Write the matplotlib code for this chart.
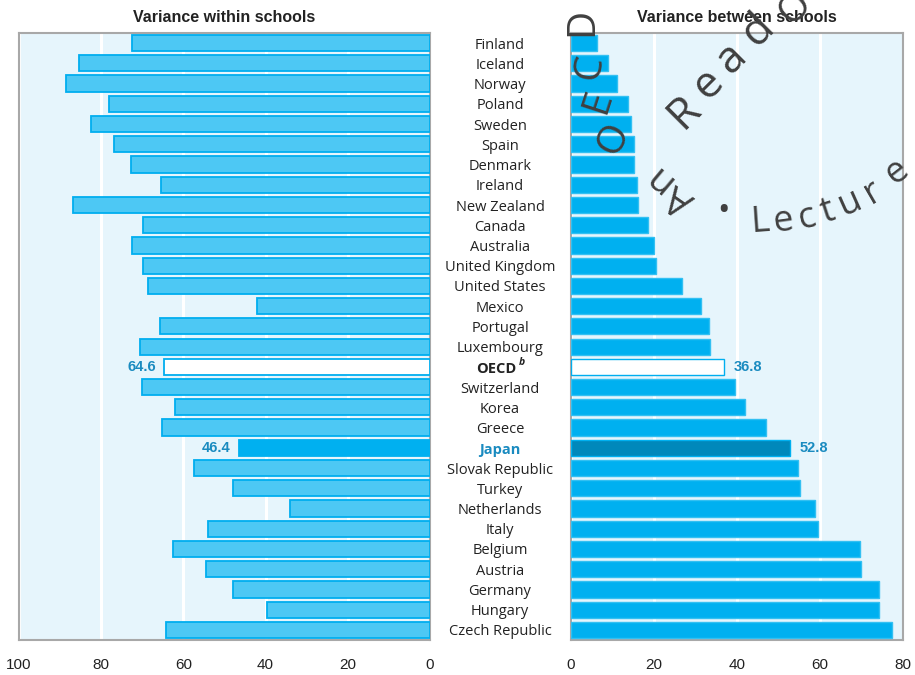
import matplotlib
matplotlib.use("Agg")
import matplotlib.pyplot as plt
import matplotlib.transforms as mtransforms

# Data (% of OECD average variance)
countries = ["Finland", "Iceland", "Norway", "Poland", "Sweden", "Spain", "Denmark",
             "Ireland", "New Zealand", "Canada", "Australia", "United Kingdom",
             "United States", "Mexico", "Portugal", "Luxembourg", "OECD",
             "Switzerland", "Korea", "Greece", "Japan", "Slovak Republic", "Turkey",
             "Netherlands", "Italy", "Belgium", "Austria", "Germany", "Hungary",
             "Czech Republic"]
within = [72.5, 85.4, 88.6, 78.1, 82.5, 76.9, 72.7, 65.5, 86.9, 69.8, 72.5, 69.8,
          68.6, 42.1, 65.7, 70.6, 64.6, 70.1, 62.0, 65.2, 46.4, 57.4, 47.9, 34.1,
          54.0, 62.5, 54.5, 47.9, 39.7, 64.2]
between = [6.3, 8.9, 11.1, 13.8, 14.5, 15.2, 15.2, 15.9, 16.2, 18.6, 20.0, 20.5,
           26.8, 31.4, 33.3, 33.6, 36.8, 39.6, 42.0, 46.9, 52.8, 54.8, 55.1, 58.7,
           59.4, 69.6, 69.8, 74.2, 74.2, 77.3]
left_ticks = [100, 80, 60, 40, 20, 0]
right_ticks = [0, 20, 40, 60, 80]

bg = "#e6f5fc"
edge = "#00aeef"
light = "#4dc8f4"
solid = "#00b0f0"
dark = "#0088bb"
label_blue = "#1a8bc0"
spine_gray = "#a8a8a8"

fig = plt.figure(figsize=(9.15, 6.75), dpi=100)
axl = fig.add_axes([19 / 915, 1 - 640 / 675, 411 / 915, 607 / 675])
axr = fig.add_axes([571 / 915, 1 - 640 / 675, 332 / 915, 607 / 675])

# left panel
for i, (c, v) in enumerate(zip(countries, within)):
    if c == "OECD":
        fc, ec = "white", edge
    elif c == "Japan":
        fc, ec = solid, solid
    else:
        fc, ec = light, edge
    axl.barh(i, v, height=0.8, color=fc, edgecolor=ec, linewidth=1.3, zorder=3)

# right panel
for i, (c, v) in enumerate(zip(countries, between)):
    if c == "OECD":
        fc, ec = "white", edge
    elif c == "Japan":
        fc, ec = dark, solid
    else:
        fc, ec = solid, "#33c0f2"
    axr.barh(i, v, height=0.8, color=fc, edgecolor=ec, linewidth=1.0, zorder=3)

axl.set_xlim(100, 0)
axr.set_xlim(0, 80)
for ax, ticks in ((axl, left_ticks), (axr, right_ticks)):
    ax.set_ylim(len(countries) - 0.5, -0.5)
    ax.set_facecolor(bg)
    ax.set_yticks([])
    ax.set_xticks(ticks)
    ax.tick_params(axis="x", length=0, pad=13, labelsize=11, labelcolor="#222222")
    for lab in ax.get_xticklabels():
        lab.set_fontfamily("Liberation Sans")
    ax.grid(axis="x", color="white", linewidth=2.2, zorder=1)
    ax.set_axisbelow(True)
    for s in ax.spines.values():
        s.set_color(spine_gray)
        s.set_linewidth(1.5)

axl.set_title("Variance within schools", fontsize=11.5, fontweight="bold",
              family="Liberation Sans", color="#222222", pad=8)
axr.set_title("Variance between schools", fontsize=11.5, fontweight="bold",
              family="Liberation Sans", color="#222222", pad=8)

# value labels for OECD and Japan
for c in ("OECD", "Japan"):
    i = countries.index(c)
    axl.annotate(f"{within[i]:.1f}", (within[i], i), xytext=(-6, 0),
                 textcoords="offset points", ha="right", va="center",
                 fontsize=10.5, fontweight="bold", color=label_blue,
                 family="Liberation Sans")
    axr.annotate(f"{between[i]:.1f}", (between[i], i), xytext=(7, 0),
                 textcoords="offset points", ha="left", va="center",
                 fontsize=10.5, fontweight="bold", color=label_blue,
                 family="Liberation Sans")

# country names in the middle
trans = mtransforms.blended_transform_factory(fig.transFigure, axr.transData)
xc = 500 / 915
for i, c in enumerate(countries):
    yy = i + 0.1
    if c == "OECD":
        fig.text(xc - 0.004, yy, "OECD", transform=trans, ha="center", va="center",
                 fontsize=10.5, fontweight="bold", family="Open Sans", color="#222222")
        fig.text(xc + 0.021, yy - 0.3, "b", transform=trans, ha="left", va="center",
                 fontsize=7.5, fontweight="bold", style="italic", family="Open Sans",
                 color="#222222")
    elif c == "Japan":
        fig.text(xc, yy, c, transform=trans, ha="center", va="center", fontsize=10.5,
                 fontweight="bold", family="Open Sans", color=label_blue)
    else:
        fig.text(xc, yy, c, transform=trans, ha="center", va="center", fontsize=10.5,
                 family="Open Sans", color="#222222")

# circular stamp watermark (partial) over the right panel
wm = "#404040"
stamp = [("D", 582, 22, 90, 28), ("C", 590, 67, 80, 28), ("E", 598, 102, 72, 28),
         ("O", 614, 139, 62, 28),
         ("n", 657, 178, 140, 28), ("A", 680, 198, 145, 28),
         ("•", 724, 212, 0, 24),
         ("L", 760, 222, 4, 26), ("e", 784, 222, 8, 26), ("c", 807, 218, 13, 26),
         ("t", 828, 212, 18, 26), ("u", 850, 203, 24, 26), ("r", 873, 192, 30, 26),
         ("e", 897, 172, 38, 26),
         ("R", 684, 112, 45, 32), ("e", 708, 84, 45, 32), ("a", 732, 58, 45, 32),
         ("d", 758, 30, 45, 32), ("O", 795, 8, 45, 28)]
for ch, px, py, rot, fs in stamp:
    fig.text(px / 915, 1 - py / 675, ch, ha="center", va="center", rotation=rot,
             rotation_mode="anchor", fontsize=fs, color=wm, family="Open Sans",
             zorder=10)

fig.savefig("out.png", dpi=100)
